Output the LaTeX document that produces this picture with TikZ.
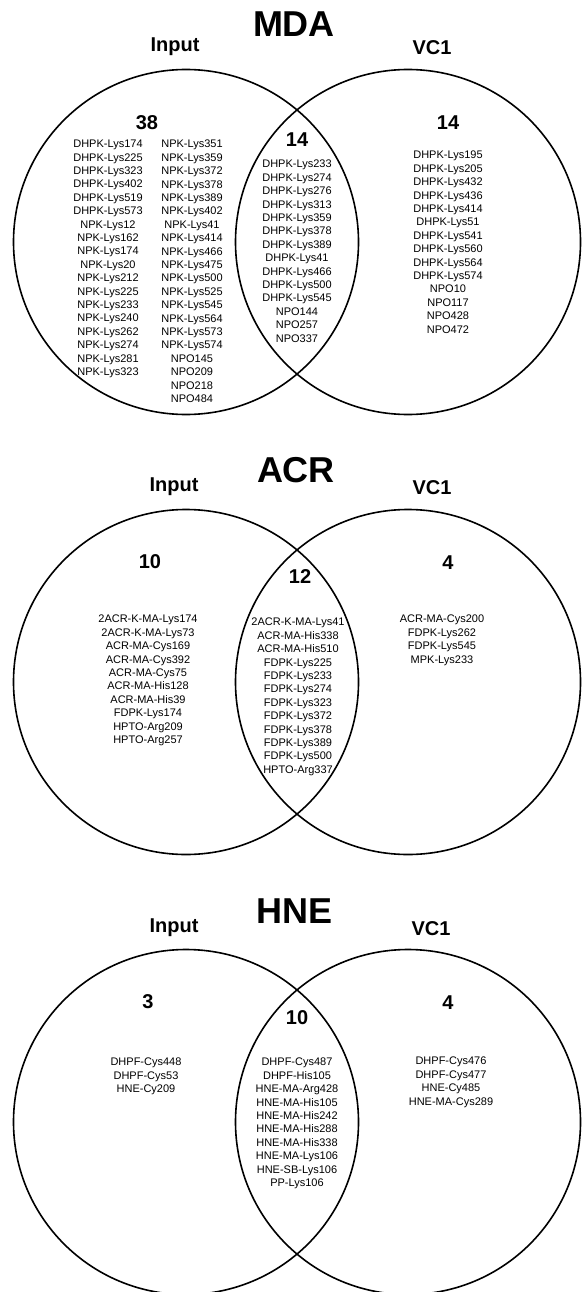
\documentclass[tikz,border=0pt]{standalone}
\usepackage{fontspec}
\setmainfont{Liberation Sans}
\usepackage{tikz}
\tikzstyle{setcircle} = [circle, draw, line width=1.6pt, minimum size=345pt, inner sep=0pt]
\tikzstyle{venntitle} = [font=\fontsize{36}{36}\selectfont\bfseries]
\tikzstyle{setname} = [font=\fontsize{20}{20}\selectfont\bfseries]
\tikzstyle{setcount} = [font=\fontsize{20}{20}\selectfont\bfseries]
\tikzstyle{itemlist} = [align=center, anchor=north, inner sep=0pt, font=\fontsize{11}{13.4}\selectfont]

\begin{document}
\begin{tikzpicture}[x=1pt, y=-1pt]
\useasboundingbox (0,0) rectangle (581,1292);

% MDA
\node[venntitle] (mdaT) at (294,24) {MDA};
\node[setname] (mdaInT) at (175,47) {Input};
\node[setname] (mdaVcT) at (432,48) {VC1};
\node[setcircle] (mdaIn) at (186,242) {};
\node[setcircle] (mdaVc) at (408,242) {};
\node[setcount] (mdaInN) at (147,123) {38};
\node[setcount] (mdaMidN) at (297,140) {14};
\node[setcount] (mdaVcN) at (448,123) {14};
\node[itemlist] (mdaInA) at (108,140) {DHPK-Lys174\\DHPK-Lys225\\DHPK-Lys323\\DHPK-Lys402\\DHPK-Lys519\\DHPK-Lys573\\NPK-Lys12\\NPK-Lys162\\NPK-Lys174\\NPK-Lys20\\NPK-Lys212\\NPK-Lys225\\NPK-Lys233\\NPK-Lys240\\NPK-Lys262\\NPK-Lys274\\NPK-Lys281\\NPK-Lys323};
\node[itemlist] (mdaInB) at (192,140) {NPK-Lys351\\NPK-Lys359\\NPK-Lys372\\NPK-Lys378\\NPK-Lys389\\NPK-Lys402\\NPK-Lys41\\NPK-Lys414\\NPK-Lys466\\NPK-Lys475\\NPK-Lys500\\NPK-Lys525\\NPK-Lys545\\NPK-Lys564\\NPK-Lys573\\NPK-Lys574\\NPO145\\NPO209\\NPO218\\NPO484};
\node[itemlist] (mdaMid) at (297,160) {DHPK-Lys233\\DHPK-Lys274\\DHPK-Lys276\\DHPK-Lys313\\DHPK-Lys359\\DHPK-Lys378\\DHPK-Lys389\\DHPK-Lys41\\DHPK-Lys466\\DHPK-Lys500\\DHPK-Lys545\\NPO144\\NPO257\\NPO337};
\node[itemlist] (mdaVcL) at (448,151) {DHPK-Lys195\\DHPK-Lys205\\DHPK-Lys432\\DHPK-Lys436\\DHPK-Lys414\\DHPK-Lys51\\DHPK-Lys541\\DHPK-Lys560\\DHPK-Lys564\\DHPK-Lys574\\NPO10\\NPO117\\NPO428\\NPO472};

% ACR
\node[venntitle] (acrT) at (296,470) {ACR};
\node[setname] (acrInT) at (174,487) {Input};
\node[setname] (acrVcT) at (432,488) {VC1};
\node[setcircle] (acrIn) at (186,682) {};
\node[setcircle] (acrVc) at (408,682) {};
\node[setcount] (acrInN) at (150,562) {10};
\node[setcount] (acrMidN) at (300,577) {12};
\node[setcount] (acrVcN) at (448,563) {4};
\node[itemlist] (acrInL) at (148,615) {2ACR-K-MA-Lys174\\2ACR-K-MA-Lys73\\ACR-MA-Cys169\\ACR-MA-Cys392\\ACR-MA-Cys75\\ACR-MA-His128\\ACR-MA-His39\\FDPK-Lys174\\HPTO-Arg209\\HPTO-Arg257};
\node[itemlist] (acrMid) at (298,618) {2ACR-K-MA-Lys41\\ACR-MA-His338\\ACR-MA-His510\\FDPK-Lys225\\FDPK-Lys233\\FDPK-Lys274\\FDPK-Lys323\\FDPK-Lys372\\FDPK-Lys378\\FDPK-Lys389\\FDPK-Lys500\\HPTO-Arg337};
\node[itemlist] (acrVcL) at (442,615) {ACR-MA-Cys200\\FDPK-Lys262\\FDPK-Lys545\\MPK-Lys233};

% HNE
\node[venntitle] (hneT) at (295,911) {HNE};
\node[setname] (hneInT) at (174,928) {Input};
\node[setname] (hneVcT) at (431,929) {VC1};
\node[setcircle] (hneIn) at (186,1122) {};
\node[setcircle] (hneVc) at (408,1122) {};
\node[setcount] (hneInN) at (148,1002) {3};
\node[setcount] (hneMidN) at (297,1018) {10};
\node[setcount] (hneVcN) at (448,1003) {4};
\node[itemlist] (hneInL) at (146,1058) {DHPF-Cys448\\DHPF-Cys53\\HNE-Cy209};
\node[itemlist] (hneMid) at (297,1058) {DHPF-Cys487\\DHPF-His105\\HNE-MA-Arg428\\HNE-MA-His105\\HNE-MA-His242\\HNE-MA-His288\\HNE-MA-His338\\HNE-MA-Lys106\\HNE-SB-Lys106\\PP-Lys106};
\node[itemlist] (hneVcL) at (451,1057) {DHPF-Cys476\\DHPF-Cys477\\HNE-Cy485\\HNE-MA-Cys289};
\end{tikzpicture}
\end{document}
